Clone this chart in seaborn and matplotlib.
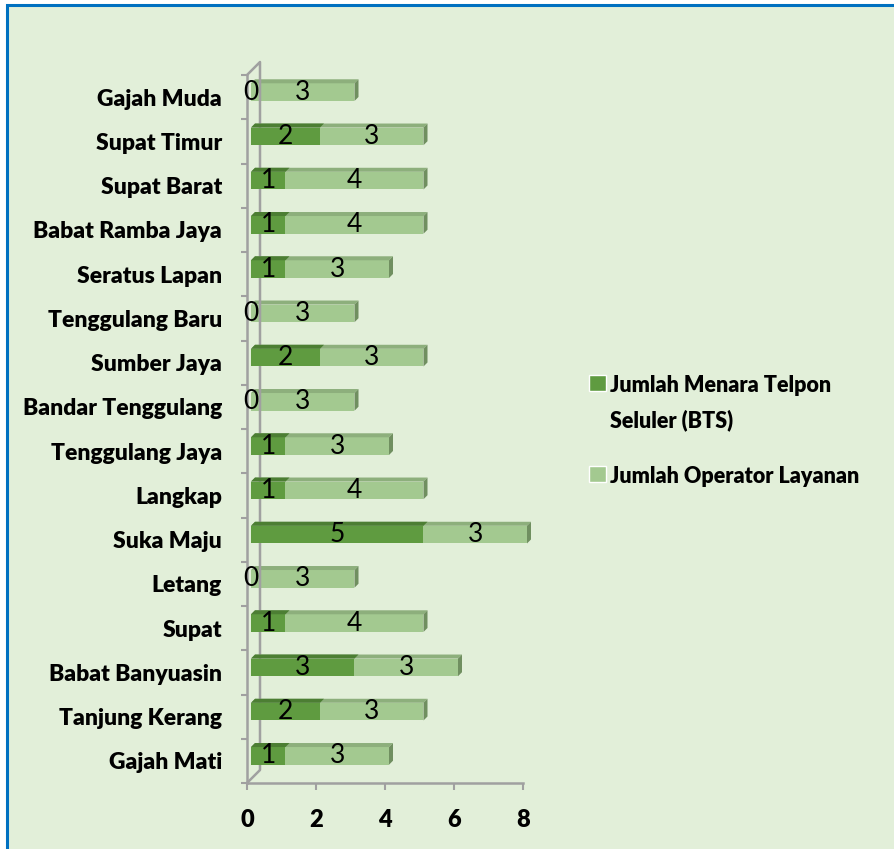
import numpy as np
import pandas as pd
import matplotlib.pyplot as plt
import matplotlib.transforms as mtrans
from matplotlib.patches import Polygon, Rectangle, Patch
import seaborn as sns

# data (top to bottom as in the chart)
desa = ['Gajah Muda', 'Supat Timur', 'Supat Barat', 'Babat Ramba Jaya', 'Seratus Lapan',
        'Tenggulang Baru', 'Sumber Jaya', 'Bandar Tenggulang', 'Tenggulang Jaya', 'Langkap',
        'Suka Maju', 'Letang', 'Supat', 'Babat Banyuasin', 'Tanjung Kerang', 'Gajah Mati']
bts = [0, 2, 1, 1, 1, 0, 2, 0, 1, 1, 5, 0, 1, 3, 2, 1]
operator = [3, 3, 4, 4, 3, 3, 3, 3, 3, 4, 3, 3, 4, 3, 3, 3]
x_ticks = [0, 2, 4, 6, 8]
legend_labels = ['Jumlah Menara Telpon\nSeluler (BTS)', 'Jumlah Operator Layanan']

df = pd.DataFrame({'Desa': desa, 'BTS': bts, 'Operator': operator})
df['Total'] = df['BTS'] + df['Operator']

# colours
bg = '#E2EFD9'
dark = '#5F9B40'
dark_top = '#4C7E33'
light = '#A3C990'
light_top = '#8DAF7C'
light_side = '#708F60'
axis_grey = '#A0A0A0'

sns.set_theme(style='white')
plt.rcParams['font.family'] = ['Lato', 'DejaVu Sans']
plt.rcParams['text.color'] = 'black'
plt.rcParams['xtick.labelcolor'] = 'black'
plt.rcParams['ytick.labelcolor'] = 'black'

fig = plt.figure(figsize=(8.95, 8.49), dpi=100)
fig.patch.set_facecolor('white')
fig.patches.append(Rectangle((7 / 895, -0.1), 1.2, 1.1 - 5 / 849, transform=fig.transFigure,
                             facecolor=bg, edgecolor='#0070C0', linewidth=2.2, zorder=-5))

ax = fig.add_axes([247 / 895, 66 / 849, 276 / 895, 708 / 849])
ax.set_facecolor('none')

sns.barplot(data=df, x='Total', y='Desa', color=light, width=0.4, orient='h',
            saturation=1, errorbar=None, ax=ax)
light_bars = list(ax.patches)
sns.barplot(data=df, x='BTS', y='Desa', color=dark, width=0.4, orient='h',
            saturation=1, errorbar=None, ax=ax)
dark_bars = list(ax.patches)[len(light_bars):]

ax.set_xlim(0, 8)
ax.set_ylim(15.5, -0.5)

# pixel -> data conversion for the 3d look
p0 = ax.transData.transform((0, 0))
p1 = ax.transData.transform((1, 1))
ppx = p1[0] - p0[0]
ppy = p1[1] - p0[1]
shift = ax.transData + mtrans.ScaledTranslation(4 / 100, 5 / 100, fig.dpi_scale_trans)
d = 4
ddx, ddy = d / ppx, d / ppy

for p in ax.patches:
    p.set_transform(shift)
    p.set_edgecolor('none')
    p.set_clip_on(False)

def add_faces(p, top_col, side_col=None):
    x0, y0, w, h = p.get_x(), p.get_y(), p.get_width(), p.get_height()
    if w <= 0:
        return
    x1 = x0 + w
    yt, yb = y0, y0 + h
    ax.add_patch(Polygon([(x0, yt), (x1, yt), (x1 + ddx, yt + ddy), (x0 + ddx, yt + ddy)],
                         closed=True, facecolor=top_col, edgecolor='none', transform=shift,
                         clip_on=False, zorder=p.get_zorder()))
    if side_col:
        ax.add_patch(Polygon([(x1, yt), (x1, yb), (x1 + ddx, yb + ddy), (x1 + ddx, yt + ddy)],
                             closed=True, facecolor=side_col, edgecolor='none', transform=shift,
                             clip_on=False, zorder=p.get_zorder()))

for p in light_bars:
    add_faces(p, light_top, light_side)
for p in dark_bars:
    p.set_zorder(p.get_zorder() + 0.1)
    add_faces(p, dark_top)

# value labels
for i, row in df.iterrows():
    ax.text(row['BTS'] / 2, i, str(row['BTS']), ha='center', va='center', fontsize=19,
            color='black', transform=shift, zorder=5)
    ax.text(row['BTS'] + row['Operator'] / 2, i, str(row['Operator']), ha='center',
            va='center', fontsize=19, color='black', transform=shift, zorder=5)

# back wall of the 3d axis
bx, by = 13 / ppx, 13 / ppy
ax.plot([0, bx, bx, 0], [15.5, 15.5 + by, -0.5 + by, -0.5], color=axis_grey, lw=1.8,
        clip_on=False, zorder=1)

sns.despine(ax=ax)
for s in ['left', 'bottom']:
    ax.spines[s].set_color(axis_grey)
    ax.spines[s].set_linewidth(1.8)

ax.set_xticks(x_ticks)
ax.set_xticklabels([str(t) for t in x_ticks], fontsize=17, fontweight='heavy')
ax.tick_params(axis='x', length=5, width=1.5, color=axis_grey, pad=14, bottom=True)
ax.set_yticks(np.arange(-0.5, 16, 1), minor=True)
ax.tick_params(axis='y', which='major', length=0, pad=18, labelsize=16.5)
ax.tick_params(axis='y', which='minor', length=4.5, width=1.5, color=axis_grey, left=True)
for lab in ax.get_yticklabels():
    lab.set_fontweight('heavy')
ax.set_xlabel('')
ax.set_ylabel('')

handles = [Patch(facecolor=dark), Patch(facecolor=light)]
leg = fig.legend(handles, legend_labels, loc='upper left',
                 bbox_to_anchor=(570 / 895, 1 - 356 / 849), frameon=False,
                 prop={'weight': 'heavy', 'size': 15.5}, handlelength=0.75,
                 handleheight=0.75, handletextpad=0.2, labelspacing=1.6)
for t in leg.get_texts():
    t.set_linespacing(1.75)
    t.set_color('black')
# put the square next to the first line of a wrapped label
for col in leg._legend_handle_box.get_children():
    for item in col.get_children():
        item.align = 'top'

fig.savefig('out.png', dpi=100)
